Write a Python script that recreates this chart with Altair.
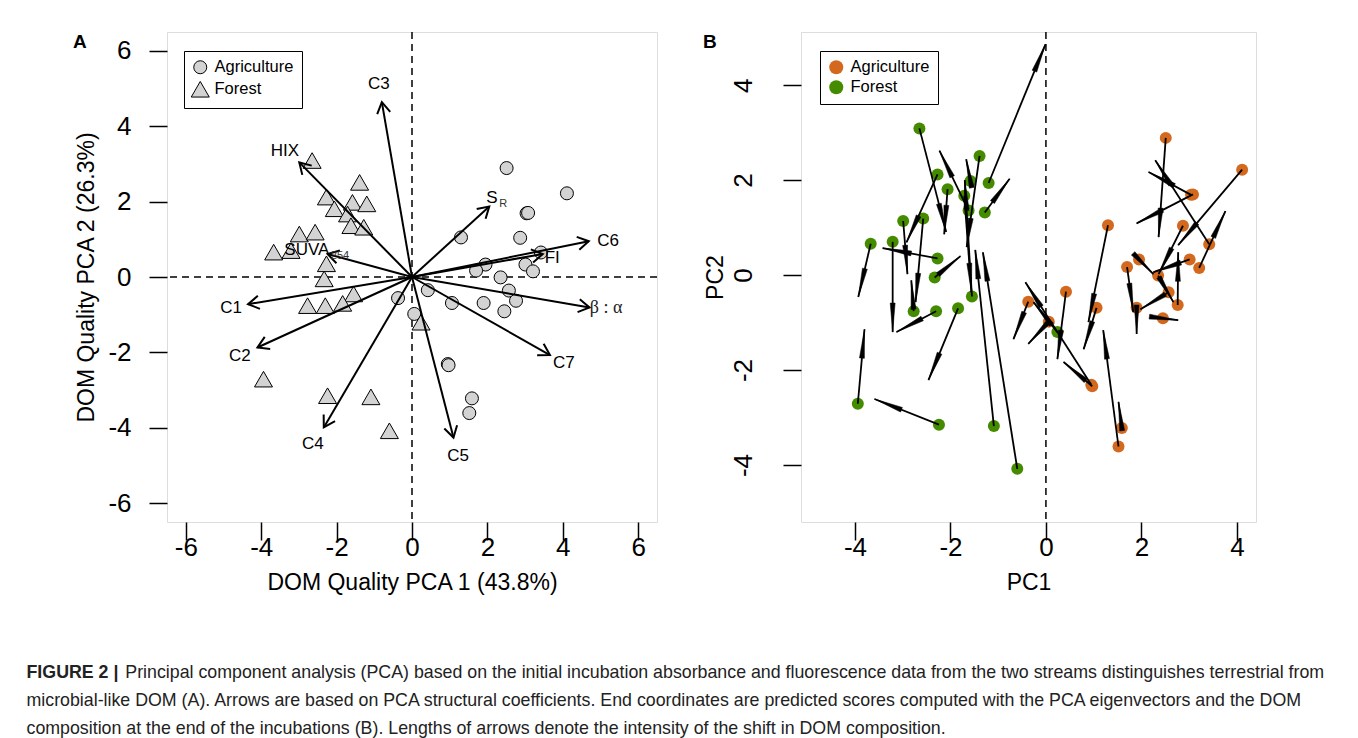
import math
import altair as alt
import pandas as pd

FONT = "Liberation Sans"

# ---------------- Panel A: initial PCA scores (also the arrow starts in B) ----------------
agr_x = [2.51, 4.11, 3.04, 3.08, 1.30, 2.87, 3.42, 1.95, 1.70, 3.01, 3.21, 2.35,
         2.57, 2.76, 2.45, 1.90, 1.06, 0.42, 0.06, -0.37, 0.95, 0.97, 1.59, 1.52]
agr_y = [2.89, 2.22, 1.69, 1.70, 1.05, 1.04, 0.65, 0.33, 0.17, 0.33, 0.15, -0.01,
         -0.36, -0.63, -0.91, -0.69, -0.69, -0.35, -0.98, -0.56, -2.31, -2.34, -3.22, -3.61]
for_x = [-2.65, -1.39, -2.27, -1.58, -1.20, -2.06, -1.71, -1.62, -1.28, -2.99, -2.57, -3.67,
         -3.21, -2.27, -2.33, -1.55, -1.84, -2.30, -2.77, 0.24, -3.94, -2.24, -1.09, -0.60]
for_y = [3.09, 2.51, 2.12, 1.98, 1.94, 1.81, 1.67, 1.36, 1.32, 1.14, 1.19, 0.66,
         0.70, 0.35, -0.05, -0.45, -0.70, -0.76, -0.76, -1.20, -2.71, -3.15, -3.18, -4.08]

# ---------------- Panel B: predicted end scores ----------------
agr_end_x = [2.36, 2.77, 2.15, 1.90, 0.89, 2.36, 2.29, 2.25, 1.83, 2.25, 3.76, 2.67,
             1.98, 2.77, 2.77, 1.90, 0.79, 0.24, -0.37, -0.68, -0.43, 0.37, 1.52, 1.20]
agr_end_y = [0.80, 0.63, 2.17, 1.09, -0.99, 0.02, 2.42, 0.02, -0.78, 0.06, 1.35, -0.57,
             -0.72, 0.48, -0.95, -1.24, -1.56, -1.77, -1.45, -1.35, -0.15, -1.83, -2.67, -1.16]
for_end_x = [-2.09, -1.66, -2.92, -1.67, -0.01, -2.13, -1.56, -2.23, -0.76, -2.90, -2.73, -3.93,
             -3.21, -3.42, -1.79, -1.70, -2.46, -3.13, -2.82, -0.26, -3.80, -3.59, -1.48, -1.32]
for_end_y = [0.91, 0.59, 0.69, 2.44, 4.86, 0.86, -0.36, 2.62, 2.03, 0.02, -0.57, -0.46,
             -1.20, 0.57, 0.40, 2.00, -2.21, -1.20, -0.11, -0.57, -1.14, -2.61, 0.53, 0.48]

# ---------------- Panel A: structural coefficients (arrows) ----------------
var_x = [-0.80, -2.99, -2.24, -4.35, -4.10, -2.34, 1.10, 3.66, 4.71, 4.69, 3.47, 2.05]
var_y = [4.64, 3.04, 0.61, -0.72, -1.87, -3.99, -4.26, -2.07, -0.81, 0.95, 0.61, 1.87]

lab_text = ["C3", "HIX", "SUVA", "C1", "C2", "C4", "C5", "C7", "C6", "FI", "S"]
lab_x = [-0.88, -3.37, -2.79, -4.80, -4.57, -2.63, 1.22, 4.03, 5.20, 3.72, 2.12]
lab_y = [5.12, 3.34, 0.72, -0.82, -2.10, -4.43, -4.75, -2.28, 0.96, 0.50, 2.10]
sub_text = ["254", "R"]
sub_x = [-1.91, 2.42]
sub_y = [0.56, 1.94]
greek_text = ["\u03b2 : \u03b1"]
greek_x = [5.15]
greek_y = [-0.82]

panel_tags = ["A", "B"]
groups = ["Agriculture", "Forest"]
B_COLORS = ["#D2691E", "#458B00"]

WA, HA = 490, 490
A_DOM = [-6.5, 6.5]
WB, HB = 455, 490
BX_DOM = [-5.13, 4.40]
BY_DOM = [-5.20, 5.12]

caption_head = "FIGURE 2 |"
caption_lines = [
    "\u200b" + "\u00a0" * 20 + "Principal component analysis (PCA) based on the initial incubation absorbance and fluorescence data from the two streams distinguishes terrestrial from",
    "microbial-like DOM (A). Arrows are based on PCA structural coefficients. End coordinates are predicted scores computed with the PCA eigenvectors and the DOM",
    "composition at the end of the incubations (B). Lengths of arrows denote the intensity of the shift in DOM composition.",
]

# ---------------- data frames ----------------
pts = pd.DataFrame({
    "x": agr_x + for_x,
    "y": agr_y + for_y,
    "xe": agr_end_x + for_end_x,
    "ye": agr_end_y + for_end_y,
    "group": ["Agriculture"] * len(agr_x) + ["Forest"] * len(for_x),
})
sxB = WB / (BX_DOM[1] - BX_DOM[0])
syB = HB / (BY_DOM[1] - BY_DOM[0])
pts["ang"] = [
    math.degrees(math.atan2((xe - x) * sxB, (ye - y) * syB)) % 360
    for x, y, xe, ye in zip(pts.x, pts.y, pts.xe, pts.ye)
]

arrA = pd.DataFrame({"x0": [0.0] * len(var_x), "y0": [0.0] * len(var_x), "x": var_x, "y": var_y})
arrA["ang"] = [math.degrees(math.atan2(x, y)) % 360 for x, y in zip(var_x, var_y)]
labs = pd.DataFrame({"t": lab_text, "x": lab_x, "y": lab_y})
subs = pd.DataFrame({"t": sub_text, "x": sub_x, "y": sub_y})
greek = pd.DataFrame({"t": greek_text, "x": greek_x, "y": greek_y})
zero = pd.DataFrame({"z": [0.0]})


def axis(**kw):
    base = dict(domain=False, grid=False, ticks=True, tickColor="black", tickWidth=1.5,
                tickSize=18, labelColor="black", labelFont=FONT, labelFontSize=26,
                labelOverlap=False, labelFlush=False, labelExpr="'' + datum.value",
                titleColor="black", titleFont=FONT, titleFontSize=23, titleFontWeight="normal")
    base.update(kw)
    return alt.Axis(**base)


def tag(letter, dx):
    return alt.Chart(pd.DataFrame({"t": [letter]})).mark_text(
        font=FONT, fontSize=19, fontWeight="bold", color="black", align="left", baseline="middle"
    ).encode(text="t:N", x=alt.value(dx), y=alt.value(10))


ticksA = [-6, -4, -2, 0, 2, 4, 6]
ticksB = [-4, -2, 0, 2, 4]

xA = alt.Scale(domain=A_DOM, nice=False, zero=False)
yA = alt.Scale(domain=A_DOM, nice=False, zero=False)
xaxA = axis(values=ticksA, title="DOM Quality PCA 1 (43.8%)", labelPadding=-6, labelBaseline="top",
            titleY=60, titleBaseline="middle")
yaxA = axis(values=ticksA, title="DOM Quality PCA 2 (26.3%)", labelAngle=0, labelAlign="right",
            labelBaseline="middle", labelPadding=18, titleAngle=270, titleX=-81, titleY=HA / 2,
            titleAlign="center", titleBaseline="middle")

TRI = "M0,-1.2L-1.385,1.2L1.385,1.2Z"
legA_kw = dict(title=None, orient="none", legendX=17, legendY=19, strokeColor="black",
               fillColor="white", padding=8, labelFont=FONT, labelFontSize=16.5,
               labelColor="black", symbolStrokeColor="black", symbolFillColor="#d3d3d3",
               symbolStrokeWidth=1, symbolSize=169, symbolOpacity=1, rowPadding=3, labelOffset=6,
               cornerRadius=0)

pointsA = alt.Chart(pts).mark_point(filled=True, fill="#d3d3d3", strokeWidth=1,
                                    opacity=1, size=169).encode(
    x=alt.X("x:Q", scale=xA, axis=xaxA),
    y=alt.Y("y:Q", scale=yA, axis=yaxA),
    shape=alt.Shape("group:N", scale=alt.Scale(domain=groups, range=["circle", TRI]),
                    legend=alt.Legend(**legA_kw)),
    stroke=alt.Stroke("group:N", scale=alt.Scale(domain=groups, range=["black", "black"]),
                      legend=alt.Legend(**legA_kw)),
)
zxA = alt.Chart(zero).mark_rule(color="black", strokeWidth=1.5, strokeDash=[7, 5]).encode(x=alt.X("z:Q", scale=xA))
zyA = alt.Chart(zero).mark_rule(color="black", strokeWidth=1.5, strokeDash=[7, 5]).encode(y=alt.Y("z:Q", scale=yA))
linesA = alt.Chart(arrA).mark_rule(color="black", strokeWidth=2).encode(
    x=alt.X("x0:Q", scale=xA), y=alt.Y("y0:Q", scale=yA), x2="x:Q", y2="y:Q")
headsA = alt.Chart(arrA).mark_point(shape="M-0.6,1L0,0L0.6,1", filled=False, stroke="black",
                                    strokeWidth=2, size=484, opacity=1).encode(
    x=alt.X("x:Q", scale=xA), y=alt.Y("y:Q", scale=yA), angle=alt.Angle("ang:Q", scale=None))
labelsA = alt.Chart(labs).mark_text(font=FONT, fontSize=17, color="black").encode(
    x=alt.X("x:Q", scale=xA), y=alt.Y("y:Q", scale=yA), text="t:N")
subsA = alt.Chart(subs).mark_text(font=FONT, fontSize=11, color="#333").encode(
    x=alt.X("x:Q", scale=xA), y=alt.Y("y:Q", scale=yA), text="t:N")
greekA = alt.Chart(greek).mark_text(font="Liberation Serif", fontSize=18, color="#222").encode(
    x=alt.X("x:Q", scale=xA), y=alt.Y("y:Q", scale=yA), text="t:N")

panelA = alt.layer(zxA, zyA, pointsA, linesA, headsA, labelsA, subsA, greekA,
                   tag(panel_tags[0], -94)).properties(width=WA, height=HA)

# ---------------- Panel B ----------------
xB = alt.Scale(domain=BX_DOM, nice=False, zero=False)
yB = alt.Scale(domain=BY_DOM, nice=False, zero=False)
xaxB = axis(values=ticksB, title="PC1", labelPadding=-6, labelBaseline="top", titleY=60,
            titleBaseline="middle")
yaxB = axis(values=ticksB, title="PC2", labelAngle=270, labelAlign="center",
            labelBaseline="alphabetic", labelPadding=32, titleAngle=270, titleX=-86, titleY=HB / 2,
            titleAlign="center", titleBaseline="middle")
legB = alt.Legend(title=None, orient="none", legendX=19, legendY=19, strokeColor="black",
                  fillColor="white", padding=8, labelFont=FONT, labelFontSize=16.5,
                  labelColor="black", symbolSize=196, symbolOpacity=1, symbolStrokeWidth=0,
                  rowPadding=3, labelOffset=6, cornerRadius=0)

pointsB = alt.Chart(pts).mark_circle(size=144, opacity=1).encode(
    x=alt.X("x:Q", scale=xB, axis=xaxB),
    y=alt.Y("y:Q", scale=yB, axis=yaxB),
    color=alt.Color("group:N", scale=alt.Scale(domain=groups, range=B_COLORS), legend=legB),
)
zxB = alt.Chart(zero).mark_rule(color="black", strokeWidth=1.5, strokeDash=[7, 5]).encode(x=alt.X("z:Q", scale=xB))
linesB = alt.Chart(pts).mark_rule(color="black", strokeWidth=1.8).encode(
    x=alt.X("x:Q", scale=xB), y=alt.Y("y:Q", scale=yB), x2="xe:Q", y2="ye:Q")
headsB = alt.Chart(pts).mark_point(shape="M0,0L0.17,2L-0.17,2Z", filled=True, fill="black",
                                   stroke="black", strokeWidth=0.5, size=841, opacity=1).encode(
    x=alt.X("xe:Q", scale=xB), y=alt.Y("ye:Q", scale=yB), angle=alt.Angle("ang:Q", scale=None))

panelB = alt.layer(zxB, pointsB, linesB, headsB, tag(panel_tags[1], -98)).properties(width=WB, height=HB)

chart = alt.hconcat(panelA, panelB, spacing=43).resolve_scale(
    x="independent", y="independent", shape="independent", color="independent",
    stroke="independent"
).properties(
    padding={"left": 18, "top": 22, "right": 0, "bottom": 0},
    title=alt.TitleParams(
        caption_head, subtitle=caption_lines, orient="bottom", anchor="start", frame="bounds",
        font=FONT, fontSize=17.8, fontWeight="bold", color="#222", baseline="top",
        offset=69, dx=-46, lineHeight=28, subtitleFont=FONT, subtitleFontSize=17.8,
        subtitleColor="#222", subtitleLineHeight=28, subtitlePadding=-17.8,
    ),
).configure_view(stroke="black", strokeWidth=1.5).configure(font=FONT)

chart.save("out.html", embed_options={"renderer": "svg", "actions": False})
